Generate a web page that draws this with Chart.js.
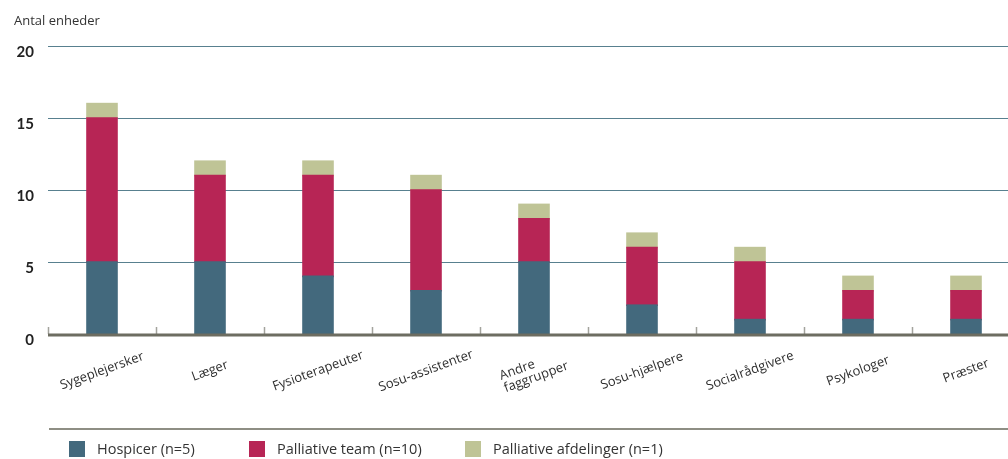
<!DOCTYPE html>
<html lang="da">
<head>
<meta charset="utf-8">
<title>Antal enheder</title>
<script src="https://cdn.jsdelivr.net/npm/chart.js@4/dist/chart.umd.min.js"></script>
<style>
  html, body { margin: 0; padding: 0; background: #fff; overflow: hidden; }
  #wrap { position: relative; width: 1020px; height: 459px; }
</style>
</head>
<body>
<div id="wrap"><canvas id="c"></canvas></div>
<script>
// Faggrupper (x-akse)
const categories = [
  'Sygeplejersker', 'Læger', 'Fysioterapeuter', 'Sosu-assistenter',
  ['Andre', 'faggrupper'], 'Sosu-hjælpere', 'Socialrådgivere', 'Psykologer', 'Præster'
];

// Antal enheder pr. type
const hospicer        = [5, 5, 4, 3, 5, 2, 1, 1, 1];
const palliativeTeam  = [10, 6, 7, 7, 3, 4, 4, 2, 2];
const palliativeAfd   = [1, 1, 1, 1, 1, 1, 1, 1, 1];

const seriesLabels = ['Hospicer (n=5)', 'Palliative team (n=10)', 'Palliative afdelinger (n=1)'];
const yTicks = [0, 5, 10, 15, 20];
const yTitle = 'Antal enheder';

const colors = ['#43697d', '#b72555', '#bfc496'];
const textFont = '"Open Sans", "DejaVu Sans", sans-serif';

// Kategorinavne, skillestreger, akselinje og forklaring tegnes her
const decorations = {
  id: 'decorations',
  afterDatasetsDraw(chart) {
    const { ctx, chartArea, scales } = chart;
    const x = scales.x;
    const n = categories.length;
    const step = (x.getPixelForValue(1) - x.getPixelForValue(0));
    ctx.save();
    // små skillestreger mellem kategorier
    ctx.strokeStyle = '#a3a39c';
    ctx.lineWidth = 1.5;
    for (let i = 0; i <= n; i++) {
      const px = Math.round(x.getPixelForValue(i) - step / 2) + 0.5;
      ctx.beginPath();
      ctx.moveTo(px, chartArea.bottom - 7);
      ctx.lineTo(px, chartArea.bottom);
      ctx.stroke();
    }
    // x-akse
    ctx.strokeStyle = '#6d6d61';
    ctx.lineWidth = 3;
    ctx.beginPath();
    ctx.moveTo(chartArea.left, chartArea.bottom + 1);
    ctx.lineTo(chartArea.right, chartArea.bottom + 1);
    ctx.stroke();
    ctx.restore();
  },
  afterDraw(chart) {
    const { ctx, scales } = chart;
    const x = scales.x;
    ctx.save();
    // y-akse titel
    ctx.fillStyle = '#333';
    ctx.font = '13px ' + textFont;
    ctx.textAlign = 'left';
    ctx.textBaseline = 'alphabetic';
    ctx.fillText(yTitle, 14, 25);

    // roterede kategorinavne
    ctx.font = '13px ' + textFont;
    ctx.fillStyle = '#2e2e2e';
    const angle = -20 * Math.PI / 180;
    categories.forEach((lab, i) => {
      const cx = x.getPixelForValue(i);
      const lines = Array.isArray(lab) ? lab : [lab];
      const lh = 13;
      const w = Math.max(...lines.map(l => ctx.measureText(l).width));
      ctx.save();
      ctx.translate(cx, 371);
      ctx.rotate(angle);
      ctx.textBaseline = 'middle';
      ctx.textAlign = 'left';
      lines.forEach((l, k) => {
        const dy = (k - (lines.length - 1) / 2) * lh;
        ctx.fillText(l, -w / 2, dy);
      });
      ctx.restore();
    });

    // forklaring
    ctx.strokeStyle = '#8e8e84';
    ctx.lineWidth = 2;
    ctx.beginPath();
    ctx.moveTo(49, 429);
    ctx.lineTo(chart.width, 429);
    ctx.stroke();

    const legendX = [69, 249, 465];
    ctx.font = '14.5px ' + textFont;
    ctx.textBaseline = 'middle';
    ctx.textAlign = 'left';
    chart.data.datasets.forEach((ds, i) => {
      ctx.fillStyle = ds.backgroundColor;
      ctx.fillRect(legendX[i], 441, 16, 16);
      ctx.fillStyle = '#333';
      ctx.fillText(ds.label, legendX[i] + 28, 449.5);
    });
    ctx.restore();
  }
};

new Chart(document.getElementById('c'), {
  type: 'bar',
  data: {
    labels: categories,
    datasets: [
      { label: seriesLabels[0], data: hospicer, backgroundColor: colors[0] },
      { label: seriesLabels[1], data: palliativeTeam, backgroundColor: colors[1] },
      { label: seriesLabels[2], data: palliativeAfd, backgroundColor: colors[2] }
    ]
  },
  options: {
    responsive: true,
    maintainAspectRatio: false,
    animation: false,
    layout: { padding: { top: 46, right: 0, bottom: 0, left: 0 } },
    datasets: { bar: { barThickness: 30, borderWidth: 0, inflateAmount: 0.8 } },
    plugins: {
      legend: { display: false },
      tooltip: { enabled: false }
    },
    scales: {
      x: {
        stacked: true,
        grid: { display: false },
        border: { display: false },
        ticks: { display: false },
        afterFit(s) { s.height = 125; }
      },
      y: {
        stacked: true,
        min: 0,
        max: 20,
        afterBuildTicks(s) { s.ticks = yTicks.map(v => ({ value: v })); },
        grid: {
          color: ctx => (ctx.tick && ctx.tick.value === 0) ? 'rgba(0,0,0,0)' : '#58808f',
          lineWidth: 1,
          drawTicks: false
        },
        border: { display: false },
        ticks: {
          padding: 14,
          labelOffset: 6,
          color: '#222',
          font: { family: 'Lato, "DejaVu Sans", sans-serif', weight: 'bold', size: 15 }
        },
        afterFit(s) { s.width = 48; }
      }
    }
  },
  plugins: [decorations]
});
</script>
</body>
</html>
